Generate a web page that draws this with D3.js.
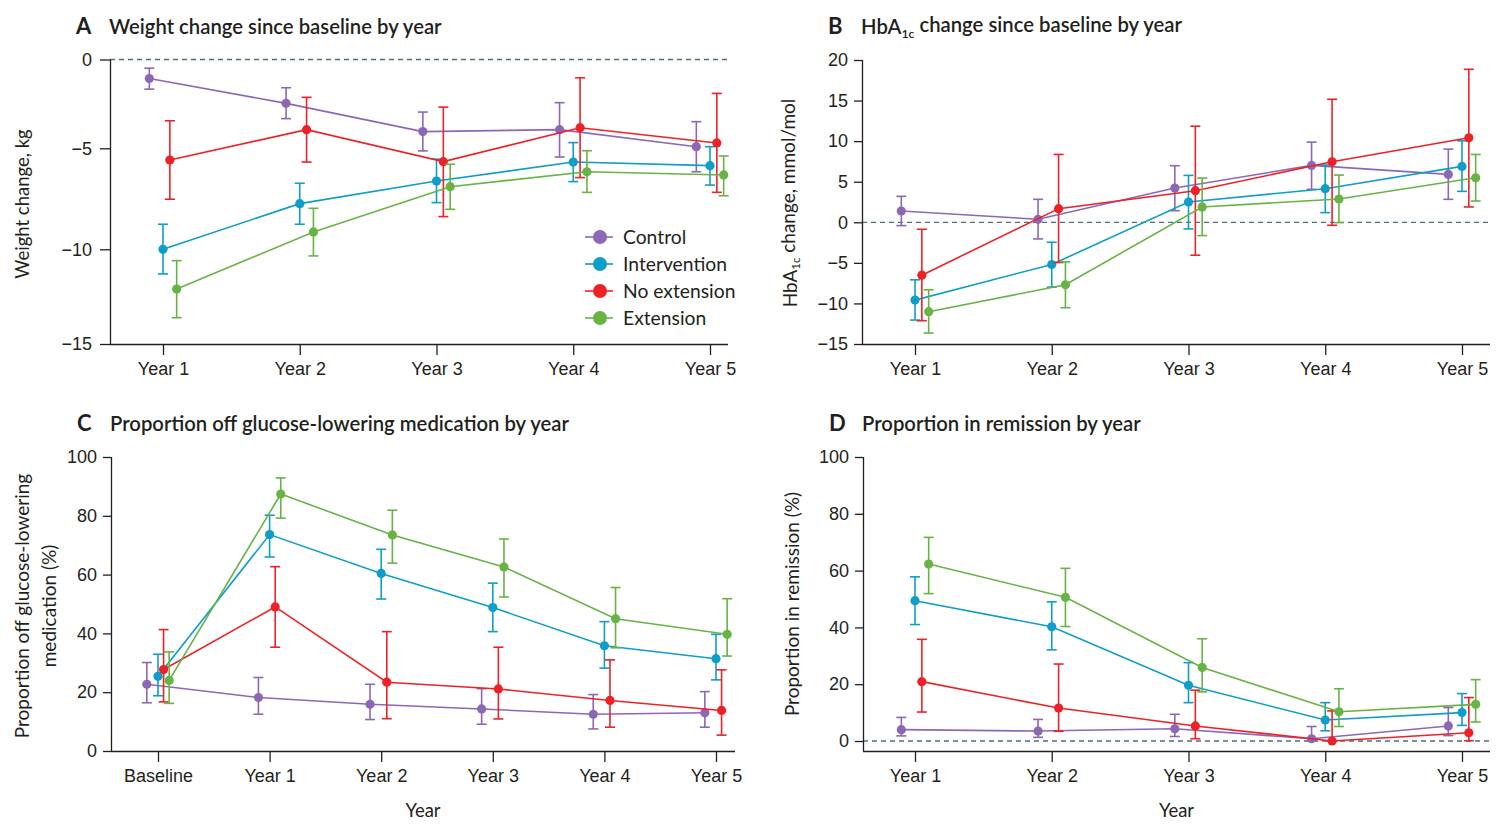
<!DOCTYPE html>
<html>
<head>
<meta charset="utf-8">
<script src="https://cdn.jsdelivr.net/npm/d3@7"></script>
<style>
  body { margin: 0; background: #fff; }
  svg { font-family: Lato, "Noto Sans", sans-serif; fill: #231f20; }
  .tick text { font-size: 18px; fill: #231f20; }
  .domain, .tick line { stroke: #231f20; stroke-width: 1.3px; }
</style>
</head>
<body>
<svg id="chart" width="1500" height="829"></svg>
<script>
// each point: [mean, upper CI, lower CI]
const yearLabels = ["Year 1", "Year 2", "Year 3", "Year 4", "Year 5"];
const medLabels = ["Baseline", "Year 1", "Year 2", "Year 3", "Year 4", "Year 5"];
const seriesNames = ["Control", "Intervention", "No extension", "Extension"];
const seriesColors = ["#8c68b4", "#0f9dc9", "#ec2227", "#67b345"];
const seriesDodge = [-0.1, 0, 0.05, 0.1];

const weightControl = [[-1.07, -0.49, -1.67], [-2.47, -1.59, -3.33], [-4.06, -2.96, -5.13], [-3.95, -2.43, -5.43], [-4.91, -3.50, -6.16]];
const weightIntervention = [[-10.0, -8.76, -11.30], [-7.74, -6.73, -8.76], [-6.62, -5.54, -7.69], [-5.68, -4.68, -6.65], [-5.86, -4.91, -6.82]];
const weightNoExt = [[-5.58, -3.45, -7.52], [-3.95, -2.13, -5.68], [-5.66, -2.68, -8.38], [-3.84, -1.03, -6.45], [-4.70, -1.91, -7.18]];
const weightExt = [[-12.10, -10.60, -13.61], [-9.14, -7.97, -10.35], [-6.90, -5.79, -8.02], [-6.16, -5.12, -7.18], [-6.32, -5.38, -7.35]];

const hbControl = [[1.39, 3.2, -0.41], [0.37, 2.83, -2.05], [4.22, 6.97, 1.43], [7.01, 9.88, 4.06], [5.90, 9.02, 2.83]];
const hbIntervention = [[-9.59, -7.09, -12.05], [-5.20, -2.46, -7.99], [2.5, 5.78, -0.82], [4.14, 7.05, 1.19], [6.89, 10.04, 3.81]];
const hbNoExt = [[-6.52, -0.86, -12.13], [1.68, 8.36, -4.96], [3.89, 11.84, -4.06], [7.46, 15.16, -0.37], [10.41, 18.85, 1.89]];
const hbExt = [[-11.02, -8.32, -13.65], [-7.70, -4.88, -10.53], [1.89, 5.45, -1.64], [2.87, 5.82, -0.04], [5.49, 8.36, 2.62]];

const medControl = [[22.7, 30.1, 16.4], [18.2, 25.0, 12.5], [15.9, 22.7, 10.7], [14.3, 21.2, 9.1], [12.5, 19.2, 7.5], [13.0, 20.2, 8.1]];
const medIntervention = [[25.4, 32.9, 18.8], [73.6, 80.2, 66.0], [60.4, 68.6, 51.7], [48.8, 57.1, 40.6], [35.8, 44.0, 28.2], [31.4, 39.7, 24.2]];
const medNoExt = [[27.7, 41.3, 16.7], [49.0, 62.7, 35.3], [23.4, 40.6, 11.0], [21.1, 35.3, 10.9], [17.2, 31.0, 8.1], [13.8, 27.6, 5.4]];
const medExt = [[24.0, 33.7, 16.2], [87.4, 92.9, 79.2], [73.5, 81.9, 63.9], [62.6, 72.1, 52.4], [45.0, 55.6, 35.1], [39.7, 51.8, 32.3]];

const remControl = [[4.0, 8.3, 1.8], [3.5, 7.6, 1.3], [4.3, 9.4, 1.6], [0.8, 5.1, 0], [5.3, 11.8, 1.9]];
const remIntervention = [[49.4, 57.8, 41.0], [40.2, 49.0, 32.1], [19.6, 27.6, 13.5], [7.4, 13.5, 3.6], [10.0, 16.7, 5.5]];
const remNoExt = [[20.9, 35.8, 10.2], [11.6, 27.1, 3.4], [5.3, 17.9, 0.8], [0, 10.6, 0], [2.9, 15.3, 0.1]];
const remExt = [[62.3, 71.7, 51.9], [50.6, 60.8, 40.3], [25.9, 36.0, 17.3], [10.3, 18.4, 5.1], [12.9, 21.6, 6.7]];

const weightTicks = [0, -5, -10, -15];
const hbTicks = [20, 15, 10, 5, 0, -5, -10, -15];
const pctTicks = [0, 20, 40, 60, 80, 100];

const svg = d3.select("#chart");
const fmt = d => d < 0 ? "\u2212" + Math.abs(d) : String(d);

function drawPanel(p) {
  const g = svg.append("g");
  const x = d3.scalePoint().domain(p.cats).range(p.xr);
  const step = x.step();
  // the weight panel's printed axis is not evenly spaced, so it gets a piecewise scale
  const y = d3.scaleLinear().domain(p.yd).range(p.yr || [p.bottom, p.top]);
  const yTop = d3.max(p.ticks, y) === undefined ? p.top : d3.min(p.ticks, y);

  // zero reference line
  if (p.zero) {
    g.append("line")
      .attr("x1", p.left).attr("x2", p.right)
      .attr("y1", y(0)).attr("y2", y(0))
      .attr("stroke", "#4f6f7c").attr("stroke-width", 1.3)
      .attr("stroke-dasharray", "5,4");
  }

  // axes
  g.append("g").attr("transform", `translate(0,${p.bottom})`)
    .call(d3.axisBottom(x).tickSize(11).tickPadding(4).tickSizeOuter(0))
    .call(a => a.select(".domain").attr("d", `M${p.left},0.5H${p.right}`))
    .call(a => a.selectAll(".tick text").attr("dy", "0.9em"));
  g.append("g").attr("transform", `translate(${p.left},0)`)
    .call(d3.axisLeft(y).tickValues(p.ticks).tickFormat(fmt)
      .tickSize(p.tickLen || 8).tickPadding(p.tickPad || 6).tickSizeOuter(0))
    .call(a => a.select(".domain").attr("d", `M0.5,${yTop}V${p.bottom}`));

  // series
  p.series.forEach((s, i) => {
    const col = seriesColors[i];
    const px = (d, j) => x(p.cats[j]) + seriesDodge[i] * step;
    g.append("path")
      .datum(s)
      .attr("fill", "none").attr("stroke", col).attr("stroke-width", 1.6)
      .attr("d", d3.line().x(px).y(d => y(d[0])));
    const eb = g.append("g").selectAll("g").data(s).join("g")
      .attr("stroke", col).attr("stroke-width", 1.6);
    eb.append("line")
      .attr("x1", px).attr("x2", px)
      .attr("y1", d => y(d[1])).attr("y2", d => y(d[2]));
    eb.append("line")
      .attr("x1", (d, j) => px(d, j) - 5).attr("x2", (d, j) => px(d, j) + 5)
      .attr("y1", d => y(d[1])).attr("y2", d => y(d[1]));
    eb.append("line")
      .attr("x1", (d, j) => px(d, j) - 5).attr("x2", (d, j) => px(d, j) + 5)
      .attr("y1", d => y(d[2])).attr("y2", d => y(d[2]));
    g.append("g").selectAll("circle").data(s).join("circle")
      .attr("cx", px).attr("cy", d => y(d[0]))
      .attr("r", 4.6).attr("fill", col);
  });

  // titles
  const t = g.append("text").attr("x", p.left - 34).attr("y", p.top - 26);
  t.append("tspan").attr("font-size", 22).attr("font-weight", 700).text(p.letter);
  p.title(t.append("tspan").attr("x", p.left - 1).attr("font-size", 20.3).attr("font-weight", 600));

  const yl = g.append("text")
    .attr("transform", `translate(${p.ylx},${p.yly}) rotate(-90)`)
    .attr("text-anchor", "middle").attr("font-size", p.ylSize || 18.5);
  p.ylabel(yl);

  if (p.xlabel) {
    g.append("text").attr("x", (p.left + p.right) / 2).attr("y", 817)
      .attr("text-anchor", "middle").attr("font-size", 18.5).text(p.xlabel);
  }
  return {g, x, y};
}

const hbA1c = (sel, tail) => {
  sel.append("tspan").text("HbA");
  sel.append("tspan").attr("font-size", "0.6em").attr("dy", "0.3em").text("1c");
  sel.append("tspan").attr("dy", "-0.3em").text(tail);
};

drawPanel({
  letter: "A", cats: yearLabels, left: 110, right: 728, top: 60, bottom: 344,
  xr: [163, 710], yd: [-15, -10, -5, 0], yr: [344, 249.3, 148.3, 59.5],
  ticks: weightTicks, zero: true, tickLen: 10, tickPad: 8,
  series: [weightControl, weightIntervention, weightNoExt, weightExt],
  title: s => s.text("Weight change since baseline by year"),
  ylx: 29, yly: 204, ylabel: s => s.text("Weight change, kg")
});

drawPanel({
  letter: "B", cats: yearLabels, left: 862, right: 1490, top: 60, bottom: 344,
  xr: [915, 1462], yd: [-15, 20], ticks: hbTicks, zero: true,
  series: [hbControl, hbIntervention, hbNoExt, hbExt],
  title: s => hbA1c(s, " change since baseline by year"),
  ylx: 797, yly: 203, ylSize: 19, ylabel: s => hbA1c(s, " change, mmol/mol")
});

drawPanel({
  letter: "C", cats: medLabels, left: 111, right: 735, top: 457, bottom: 751,
  xr: [158, 716], yd: [0, 100], ticks: pctTicks, zero: false,
  series: [medControl, medIntervention, medNoExt, medExt],
  title: s => s.text("Proportion off glucose-lowering medication by year"),
  ylx: 29, yly: 606, ylSize: 19, ylabel: s => {
    s.append("tspan").attr("x", 0).attr("dy", 0).text("Proportion off glucose-lowering");
    s.append("tspan").attr("x", 0).attr("dy", 27).text("medication (%)");
  },
  xlabel: "Year"
});

drawPanel({
  letter: "D", cats: yearLabels, left: 863, right: 1490, top: 457, bottom: 751,
  xr: [915, 1462], yd: [-3.52, 100], ticks: pctTicks, zero: true,
  series: [remControl, remIntervention, remNoExt, remExt],
  title: s => s.text("Proportion in remission by year"),
  ylx: 799, yly: 604, ylSize: 19, ylabel: s => s.text("Proportion in remission (%)"),
  xlabel: "Year"
});

// legend in panel A
const legend = svg.append("g").attr("transform", "translate(585,237)")
  .selectAll("g").data(seriesNames).join("g")
  .attr("transform", (d, i) => `translate(0,${i * 27})`);
legend.append("line").attr("x1", 0).attr("x2", 28).attr("y1", 0).attr("y2", 0)
  .attr("stroke", (d, i) => seriesColors[i]).attr("stroke-width", 1.6);
legend.append("circle").attr("cx", 15).attr("cy", 0).attr("r", 7)
  .attr("fill", (d, i) => seriesColors[i]);
legend.append("text").attr("x", 38).attr("y", 0).attr("dy", "0.35em")
  .attr("font-size", 19.3).text(d => d);
</script>
</body>
</html>
